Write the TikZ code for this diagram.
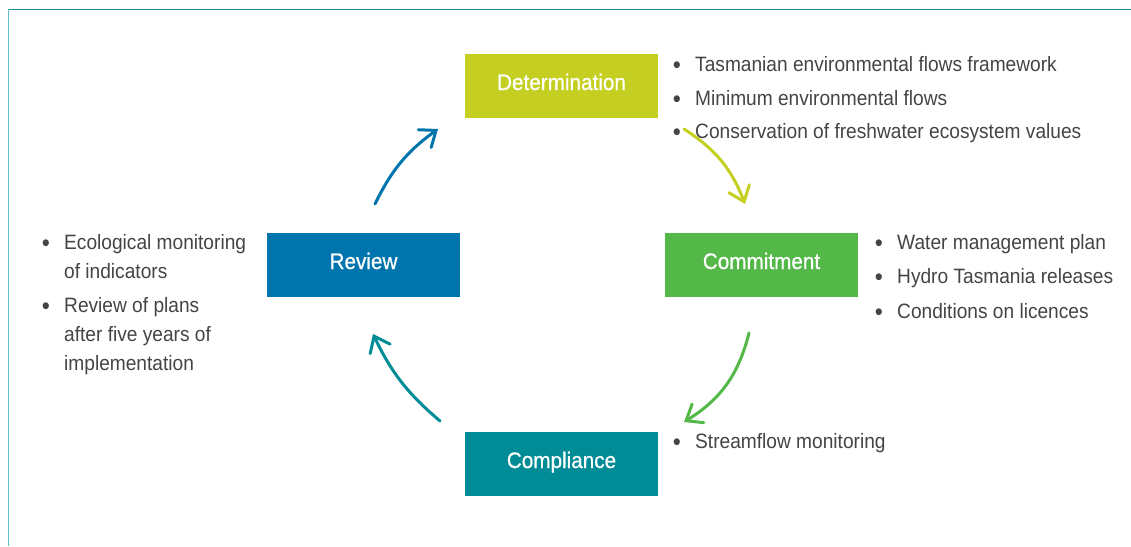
\documentclass[tikz,border=0pt]{standalone}
\usepackage{fontspec}
\setmainfont[FakeStretch=0.92]{Liberation Sans}
\newfontfamily\boxfont[FakeStretch=0.92,FakeBold=0.6]{Liberation Sans}
\usetikzlibrary{arrows.meta}
\definecolor{cdet}{HTML}{C4CF22}
\definecolor{ccom}{HTML}{53B848}
\definecolor{ccpl}{HTML}{008C96}
\definecolor{crev}{HTML}{0075AD}
\definecolor{ctxt}{HTML}{444444}
\definecolor{cftop}{HTML}{1A8A97}
\definecolor{cfleft}{HTML}{5CC2CA}
\tikzset{
  stagebox/.style={minimum width=193pt, minimum height=64pt, inner sep=0pt, text=white,
    text height=16pt, text depth=8pt,
    font=\boxfont\fontsize{22.5}{26}\selectfont},
  btext/.style={anchor=base west, inner sep=0pt, text=ctxt, font=\fontsize{20.8}{24}\selectfont},
  bdot/.style={anchor=base, inner sep=0pt, text=ctxt, yshift=-2pt, font=\fontsize{25}{28}\selectfont},
  cyc/.style={line width=3pt, line cap=round, -{Straight Barb[length=14pt,width=22pt,line cap=round]}}
}
\begin{document}
\begin{tikzpicture}[x=1pt,y=-1pt]
\useasboundingbox (0,0) rectangle (1131,546);
% frame
\draw[cftop, line width=1.2pt] (7.6,9.5) -- (1131,9.5);
\draw[cfleft, line width=1.6pt] (8.3,9) -- (8.3,546);

% stage boxes
\node[stagebox, fill=cdet] (det) at (561.5,86) {Determination};
\node[stagebox, fill=ccom] (com) at (761.5,265) {Commitment};
\node[stagebox, fill=ccpl] (cpl) at (561.5,464) {Compliance};
\node[stagebox, fill=crev] (rev) at (363.5,265) {Review};

% Determination bullets
\node[bdot] (d1b) at (677,71) {\textbullet};
\node[btext] (d1) at (695,71) {Tasmanian environmental flows framework};
\node[bdot] (d2b) at (677,105) {\textbullet};
\node[btext] (d2) at (695,105) {Minimum environmental flows};
\node[bdot] (d3b) at (677,138) {\textbullet};
\node[btext] (d3) at (695,138) {Conservation of freshwater ecosystem values};

% Commitment bullets
\node[bdot] (c1b) at (879,249) {\textbullet};
\node[btext] (c1) at (897,249) {Water management plan};
\node[bdot] (c2b) at (879,283) {\textbullet};
\node[btext] (c2) at (897,283) {Hydro Tasmania releases};
\node[bdot] (c3b) at (879,318) {\textbullet};
\node[btext] (c3) at (897,318) {Conditions on licences};

% Compliance bullet
\node[bdot] (p1b) at (677,448) {\textbullet};
\node[btext] (p1) at (695,448) {Streamflow monitoring};

% Review bullets
\node[bdot] (r1b) at (46,249) {\textbullet};
\node[btext] (r1a) at (64,249) {Ecological monitoring};
\node[btext] (r1c) at (64,278) {of indicators};
\node[bdot] (r2b) at (46,312) {\textbullet};
\node[btext] (r2a) at (64,312) {Review of plans};
\node[btext] (r2c) at (64,341) {after five years of};
\node[btext] (r2d) at (64,370) {implementation};

% cycle arrows
\coordinate (a1s) at (375,204);
\coordinate (a1e) at (438,129);
\coordinate (a2s) at (684,129);
\coordinate (a2e) at (745,204);
\coordinate (a3s) at (749,333);
\coordinate (a3e) at (684,422);
\coordinate (a4s) at (440,421);
\coordinate (a4e) at (373,334);
\draw[cyc, crev] (a1s) to[bend left=14] (a1e);
\draw[cyc, cdet] (a2s) to[bend left=18] (a2e);
\draw[cyc, ccom] (a3s) to[bend left=22] (a3e);
\draw[cyc, ccpl] (a4s) to[bend left=12] (a4e);
\end{tikzpicture}
\end{document}
